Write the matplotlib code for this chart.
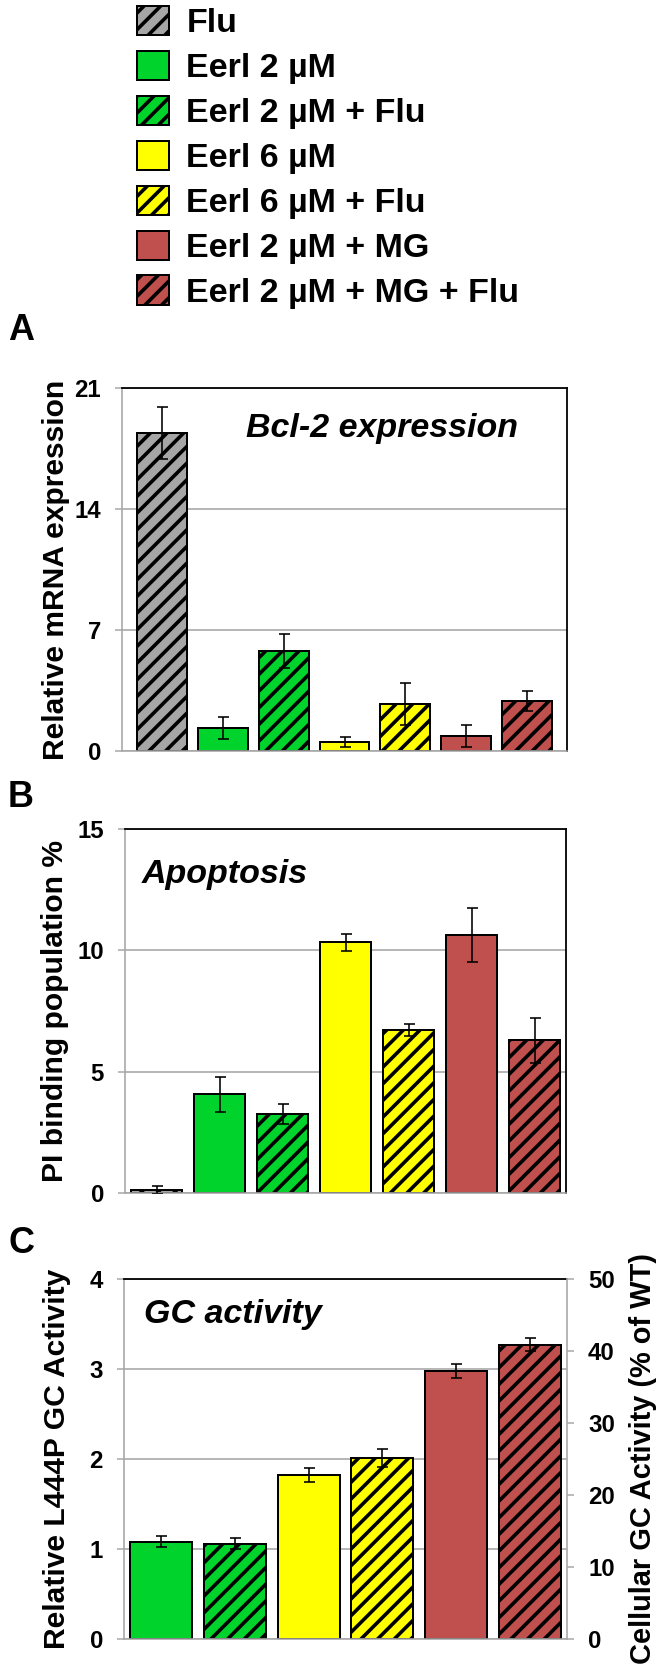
import numpy as np
import matplotlib
matplotlib.use("Agg")
import matplotlib.pyplot as plt
from matplotlib.patches import Patch

# figure size in pixels
DPI = 100
W, H = 664, 1668

# categories shared by all three panels
labels = ["Flu", "Eerl 2 µM", "Eerl 2 µM + Flu", "Eerl 6 µM", "Eerl 6 µM + Flu",
          "Eerl 2 µM + MG", "Eerl 2 µM + MG + Flu"]
colors = ["#A6A6A6", "#00D42C", "#00D42C", "#FFFF00", "#FFFF00", "#C0504D", "#C0504D"]
hatched = [True, False, True, False, True, False, True]

# A: Bcl-2 expression (relative mRNA)
bcl2 = [18.4, 1.33, 5.78, 0.52, 2.72, 0.87, 2.89]
bcl2_err = [1.5, 0.65, 1.0, 0.28, 1.2, 0.63, 0.6]

# B: apoptosis (PI binding %)
apop = [0.12, 4.07, 3.26, 10.34, 6.72, 10.63, 6.30]
apop_err = [0.15, 0.72, 0.40, 0.35, 0.25, 1.10, 0.93]

# C: GC activity (no Flu-only group)
gc_idx = [1, 2, 3, 4, 5, 6]
gc = [1.08, 1.06, 1.82, 2.01, 2.98, 3.27]
gc_err = [0.06, 0.06, 0.08, 0.10, 0.08, 0.07]

GRAY = "#A6A6A6"
HATCH = "//"


def pt(px):
    return px * 72 / DPI


plt.rcParams["font.family"] = ["Liberation Sans", "DejaVu Sans"]
plt.rcParams["font.weight"] = "bold"
plt.rcParams["axes.labelweight"] = "bold"
plt.rcParams["hatch.linewidth"] = pt(3.6)

fig = plt.figure(figsize=(W / DPI, H / DPI), dpi=DPI)


def add_axes(left, top, right, bottom):
    return fig.add_axes([left / W, 1 - bottom / H, (right - left) / W, (bottom - top) / H])


def style_ticks(ax):
    ax.tick_params(axis="y", length=pt(7), width=pt(1.5), color=GRAY,
                   pad=pt(14), labelsize=pt(24))
    for t in ax.get_yticklabels():
        t.set_fontweight("bold")


def draw_panel(ax, vals, errs, idx, width, pad, ylim, yticks):
    x = np.arange(len(vals))
    for i, k in enumerate(idx):
        ax.bar(x[i], vals[i], width, color=colors[k], edgecolor="black",
               linewidth=pt(2), hatch=HATCH if hatched[k] else None, zorder=2)
    ax.errorbar(x, vals, yerr=errs, fmt="none", ecolor="black", elinewidth=pt(1.6),
                capsize=pt(5.5), capthick=pt(1.6), zorder=3)
    ax.set_xlim(-pad, len(vals) - 1 + pad)
    ax.set_ylim(*ylim)
    ax.set_yticks(yticks)
    ax.set_xticks([])
    ax.yaxis.grid(True, color=GRAY, linewidth=pt(1.6))
    ax.set_axisbelow(True)
    style_ticks(ax)
    for s in ["left", "bottom"]:
        ax.spines[s].set_color(GRAY)
        ax.spines[s].set_linewidth(pt(1.6))
    for s in ["top", "right"]:
        ax.spines[s].set_color("black")
        ax.spines[s].set_linewidth(pt(1.8))


def ylabel(ax, text, xc):
    ax.set_ylabel(text, fontsize=pt(30), fontweight="bold")
    ax.yaxis.label.set_va("center")
    ax.yaxis.set_label_coords(xc, 0.5)


# legend
handles = [Patch(facecolor=c, edgecolor="black", linewidth=pt(2),
                 hatch=HATCH if h else None)
           for c, h in zip(colors, hatched)]
fig.legend(handles, labels, loc="upper left", bbox_to_anchor=(137 / W, 1 - 6 / H),
           frameon=False, fontsize=pt(34), handlelength=0.95, handleheight=0.95,
           handletextpad=0.5, labelspacing=0.34, borderpad=0, borderaxespad=0)

# panel A
axA = add_axes(122, 388, 567, 751)
draw_panel(axA, bcl2, bcl2_err, range(7), 0.82, 0.65, (0, 21), [0, 7, 14, 21])
ylabel(axA, "Relative mRNA expression", (56 - 122) / 445)
axA.text(0.279, 0.865, "Bcl-2 expression", transform=axA.transAxes, fontsize=pt(34),
         style="italic", va="baseline")

# panel B
axB = add_axes(125, 829, 566, 1193)
draw_panel(axB, apop, apop_err, range(7), 0.80, 0.5, (0, 15), [0, 5, 10, 15])
ylabel(axB, "PI binding population %", (55 - 125) / 441)
axB.text(0.039, 0.852, "Apoptosis", transform=axB.transAxes, fontsize=pt(34),
         style="italic", va="baseline")

# panel C with secondary axis
axC = add_axes(124, 1279, 567, 1639)
draw_panel(axC, gc, gc_err, gc_idx, 0.84, 0.5, (0, 4), [0, 1, 2, 3, 4])
axC.spines["right"].set_visible(False)
ylabel(axC, "Relative L444P GC Activity", (57 - 124) / 443)
axC.text(0.045, 0.878, "GC activity", transform=axC.transAxes, fontsize=pt(34),
         style="italic", va="baseline")

axC2 = axC.twinx()
axC2.set_ylim(0, 50)
axC2.set_yticks(range(0, 51, 10))
style_ticks(axC2)
axC2.spines["right"].set_color(GRAY)
axC2.spines["right"].set_linewidth(pt(1.6))
for s in ["top", "left", "bottom"]:
    axC2.spines[s].set_visible(False)
axC2.set_ylabel("Cellular GC Activity (% of WT)", fontsize=pt(29), fontweight="bold")
axC2.yaxis.label.set_va("center")
axC2.yaxis.set_label_coords((643 - 124) / 443, 0.5)

# panel letters
for letter, base in [("A", 340), ("B", 807), ("C", 1253)]:
    fig.text(8 / W, 1 - base / H, letter, fontsize=pt(36), va="baseline")

fig.savefig("out.png", dpi=DPI)
